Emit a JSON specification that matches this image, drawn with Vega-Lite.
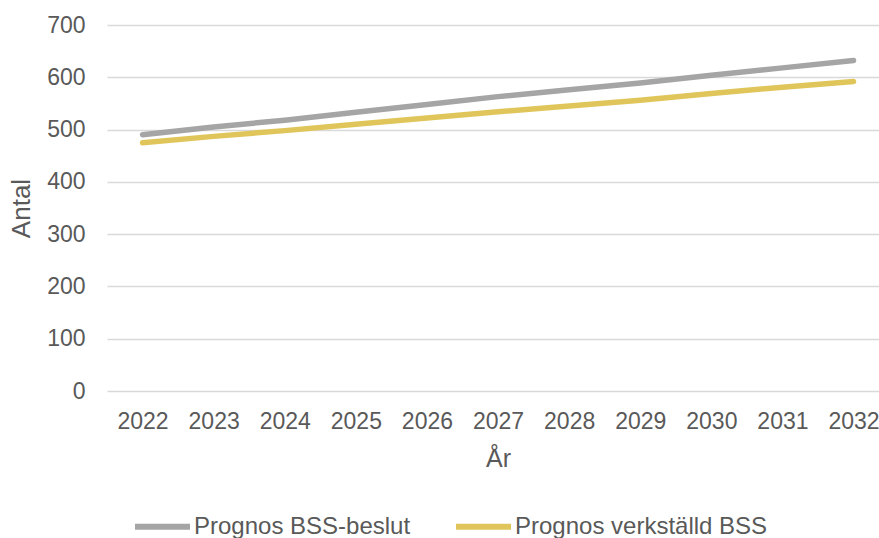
{
  "$schema": "https://vega.github.io/schema/vega-lite/v6.json",
  "autosize": {"type": "none"},
  "padding": {"left": 107, "top": 25, "right": 0, "bottom": 147},
  "width": 772,
  "height": 366,
  "background": "white",
  "config": {
    "view": {"stroke": null},
    "font": "Liberation Sans",
    "axis": {"labelFont": "Liberation Sans", "titleFont": "Liberation Sans", "labelColor": "#595959", "titleColor": "#595959", "titleFontWeight": "normal"},
    "legend": {"labelFont": "Liberation Sans", "labelColor": "#595959"}
  },
  "data": {
    "values": [
      {"year": 2022, "value": 490, "serie": "Prognos BSS-beslut"},
      {"year": 2023, "value": 505, "serie": "Prognos BSS-beslut"},
      {"year": 2024, "value": 518, "serie": "Prognos BSS-beslut"},
      {"year": 2025, "value": 533, "serie": "Prognos BSS-beslut"},
      {"year": 2026, "value": 548, "serie": "Prognos BSS-beslut"},
      {"year": 2027, "value": 563, "serie": "Prognos BSS-beslut"},
      {"year": 2028, "value": 576, "serie": "Prognos BSS-beslut"},
      {"year": 2029, "value": 589, "serie": "Prognos BSS-beslut"},
      {"year": 2030, "value": 604, "serie": "Prognos BSS-beslut"},
      {"year": 2031, "value": 618, "serie": "Prognos BSS-beslut"},
      {"year": 2032, "value": 632, "serie": "Prognos BSS-beslut"},
      {"year": 2022, "value": 475, "serie": "Prognos verkställd BSS"},
      {"year": 2023, "value": 487, "serie": "Prognos verkställd BSS"},
      {"year": 2024, "value": 498, "serie": "Prognos verkställd BSS"},
      {"year": 2025, "value": 510, "serie": "Prognos verkställd BSS"},
      {"year": 2026, "value": 522, "serie": "Prognos verkställd BSS"},
      {"year": 2027, "value": 534, "serie": "Prognos verkställd BSS"},
      {"year": 2028, "value": 545, "serie": "Prognos verkställd BSS"},
      {"year": 2029, "value": 556, "serie": "Prognos verkställd BSS"},
      {"year": 2030, "value": 569, "serie": "Prognos verkställd BSS"},
      {"year": 2031, "value": 581, "serie": "Prognos verkställd BSS"},
      {"year": 2032, "value": 592, "serie": "Prognos verkställd BSS"}
    ]
  },
  "mark": {"type": "line", "strokeWidth": 5.5, "strokeCap": "round", "strokeJoin": "round"},
  "encoding": {
    "x": {
      "field": "year",
      "type": "quantitative",
      "scale": {"domain": [2021.5, 2032.358], "nice": false, "zero": false},
      "axis": {
        "title": "År",
        "values": [2022, 2023, 2024, 2025, 2026, 2027, 2028, 2029, 2030, 2031, 2032],
        "format": "d",
        "grid": false,
        "domain": false,
        "ticks": false,
        "labelFontSize": 23,
        "labelPadding": 19,
        "labelOverlap": false,
        "labelBound": false,
        "labelFlush": false,
        "titleFontSize": 25,
        "titleX": 391,
        "titleY": 75,
        "titleAlign": "center",
        "titleBaseline": "alphabetic",
        "titleAnchor": null
      }
    },
    "y": {
      "field": "value",
      "type": "quantitative",
      "scale": {"domain": [0, 700], "nice": false},
      "axis": {
        "title": "Antal",
        "values": [0, 100, 200, 300, 400, 500, 600, 700],
        "grid": true,
        "gridColor": "#d9d9d9",
        "gridWidth": 1.5,
        "domain": false,
        "ticks": false,
        "labelFontSize": 23,
        "labelPadding": 22,
        "titleFontSize": 26,
        "titlePadding": 12
      }
    },
    "color": {
      "field": "serie",
      "type": "nominal",
      "scale": {"domain": ["Prognos BSS-beslut", "Prognos verkställd BSS"], "range": ["#a5a5a5", "#e0c65a"]},
      "legend": {
        "title": null,
        "orient": "none",
        "direction": "horizontal",
        "legendX": 25,
        "legendY": 471,
        "symbolType": "stroke",
        "symbolSize": 3025,
        "symbolStrokeWidth": 6,
        "labelFontSize": 24,
        "labelOffset": 1,
        "labelLimit": 400,
        "columnPadding": 33
      }
    }
  }
}
